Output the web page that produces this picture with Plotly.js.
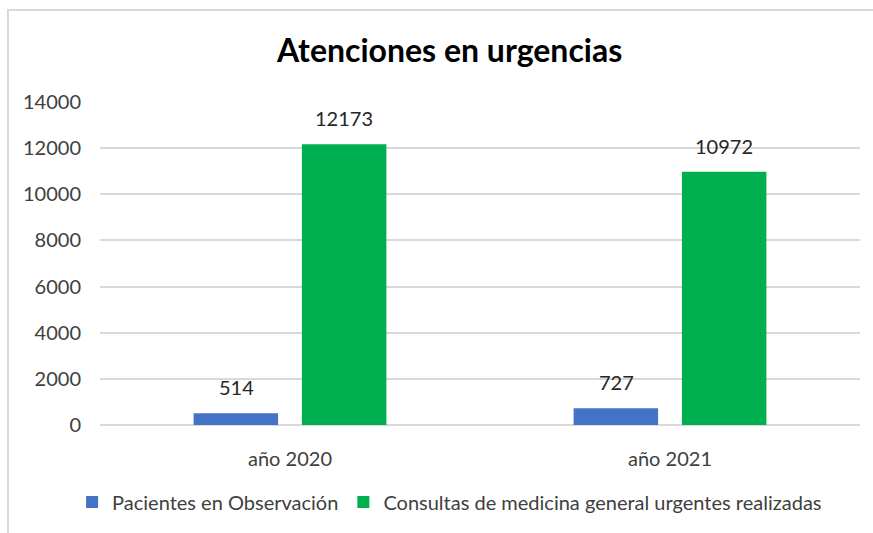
<!DOCTYPE html>
<html>
<head>
<meta charset="utf-8">
<script src="https://cdn.plot.ly/plotly-3.0.1.min.js"></script>
<style>
  body { margin: 0; background: #fff; }
  #frame { position: absolute; left: 7px; top: 9px; width: 880px; height: 540px;
           border-left: 2px solid #d9d9d9; border-top: 2px solid #d9d9d9; }
  #myDiv { position: absolute; left: 0; top: 0; width: 873px; height: 533px; }
</style>
</head>
<body>
<div id="frame"></div>
<div id="myDiv"></div>
<script>
// chart data
var years = ['año 2020', 'año 2021'];
var observacion = [514, 727];
var consultas = [12173, 10972];
var seriesNames = ['Pacientes en Observación', 'Consultas de medicina general urgentes realizadas'];
var yTicks = [0, 2000, 4000, 6000, 8000, 10000, 12000, 14000];

var font = 'Lato, "Open Sans", sans-serif';

var trace1 = {
  x: years,
  y: observacion,
  type: 'bar',
  name: seriesNames[0],
  marker: {color: '#4472C4'}
};
var trace2 = {
  x: years,
  y: consultas,
  type: 'bar',
  name: seriesNames[1],
  marker: {color: '#00B050'}
};

// value labels sit a bit above the bars, like the original
var annotations = [];
function addLabels(vals, shift) {
  for (let i = 0; i < years.length; i++) {
    annotations.push({
      x: years[i], y: vals[i], xref: 'x', yref: 'y',
      text: String(vals[i]), showarrow: false,
      xshift: shift, yshift: 12, yanchor: 'bottom',
      font: {size: 20, color: '#262626', family: font}
    });
  }
}
addLabels(observacion, -54);
addLabels(consultas, 54);

var layout = {
  width: 873,
  height: 533,
  paper_bgcolor: 'rgba(0,0,0,0)',
  plot_bgcolor: 'rgba(0,0,0,0)',
  margin: {l: 100, r: 13, t: 102, b: 108},
  font: {family: font, color: '#404040', size: 20},
  title: {
    text: '<b>Atenciones en urgencias</b>',
    font: {size: 32, color: '#000', family: font},
    x: 0.515, xanchor: 'center', y: 0.905, yanchor: 'middle'
  },
  barmode: 'group',
  bargap: 0.43,
  bargroupgap: 0.22,
  annotations: annotations,
  xaxis: {
    showgrid: false,
    showline: false,
    ticks: '',
    automargin: false,
    tickfont: {size: 20, color: '#404040'},
    ticklabelstandoff: 20
  },
  yaxis: {
    range: [0, 14000],
    tickvals: yTicks,
    ticktext: yTicks.map(String),
    gridcolor: '#d9d9d9',
    gridwidth: 1.5,
    zeroline: true,
    zerolinecolor: '#d9d9d9',
    zerolinewidth: 2,
    showline: false,
    automargin: false,
    tickfont: {size: 20, color: '#404040'},
    ticklabelstandoff: 18
  },
  legend: {
    orientation: 'h',
    x: 0.515, xanchor: 'center', xref: 'container',
    y: 0.058, yanchor: 'middle', yref: 'container',
    font: {size: 20, color: '#404040'},
    itemwidth: 30,
    traceorder: 'normal'
  },
  showlegend: true
};

Plotly.newPlot('myDiv', [trace1, trace2], layout, {displayModeBar: false});
</script>
</body>
</html>
